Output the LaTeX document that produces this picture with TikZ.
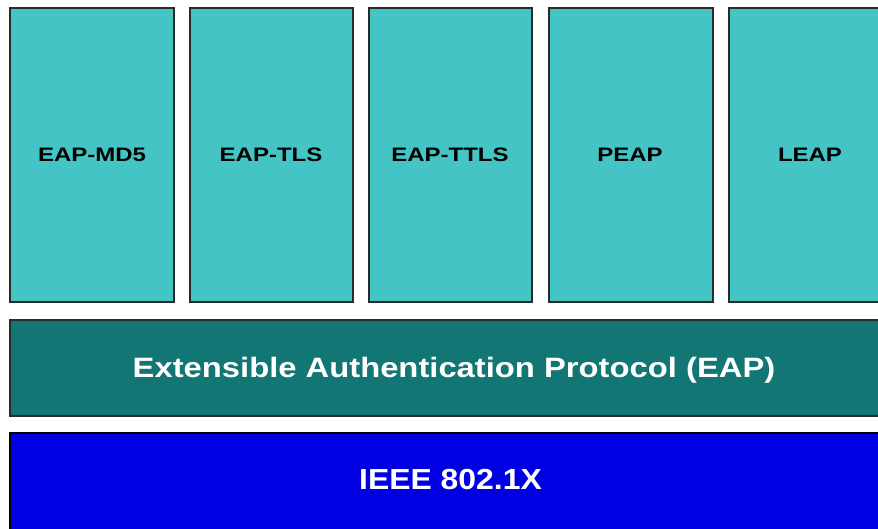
\documentclass[tikz,border=0pt]{standalone}
\usepackage{fontspec}
\setmainfont{Liberation Sans}
\usepackage{graphicx}
\definecolor{methodfill}{HTML}{44C4C4}
\definecolor{eapfill}{HTML}{127674}
\definecolor{portfill}{HTML}{0000E2}
\definecolor{edge}{HTML}{2A2A2A}
\begin{document}
\begin{tikzpicture}[x=1pt,y=-1pt,
  layer/.style={draw=edge,line width=1.2pt,inner sep=0pt,outer sep=0pt},
  method/.style={layer,fill=methodfill},
  methodtext/.style={anchor=base,inner sep=0pt,font=\fontsize{19.5}{22}\selectfont\bfseries,text=black},
  bartext/.style={anchor=base,text=white,inner sep=0pt}]
\useasboundingbox (0,0) rectangle (878,529);
\clip (0,0) rectangle (878,529);
% method boxes
\draw[method] (10,8) rectangle (174,302);
\draw[method] (190,8) rectangle (353,302);
\draw[method] (369,8) rectangle (532,302);
\draw[method] (549,8) rectangle (713,302);
\draw[method] (729,8) rectangle (893,302);
\node[methodtext] (md5)  at (92,162)  {\scalebox{1.23}[1]{EAP-MD5}};
\node[methodtext] (tls)  at (271,162) {\scalebox{1.23}[1]{EAP-TLS}};
\node[methodtext] (ttls) at (450,162) {\scalebox{1.23}[1]{EAP-TTLS}};
\node[methodtext] (peap) at (630,162) {\scalebox{1.23}[1]{PEAP}};
\node[methodtext] (leap) at (810,162) {\scalebox{1.23}[1]{LEAP}};
% EAP layer
\draw[layer,fill=eapfill] (10,320) rectangle (898,416);
\node[bartext,font=\fontsize{28}{32}\selectfont\bfseries] (eap) at (454,377)
  {\scalebox{1.17}[1]{Extensible Authentication Protocol (EAP)}};
% 802.1X layer
\draw[layer,draw=black,fill=portfill] (10,433) rectangle (898,540);
\node[bartext,font=\fontsize{29}{33}\selectfont\bfseries] (dot1x) at (450.5,489)
  {\scalebox{1.1}[1]{IEEE 802.1X}};
\end{tikzpicture}
\end{document}
